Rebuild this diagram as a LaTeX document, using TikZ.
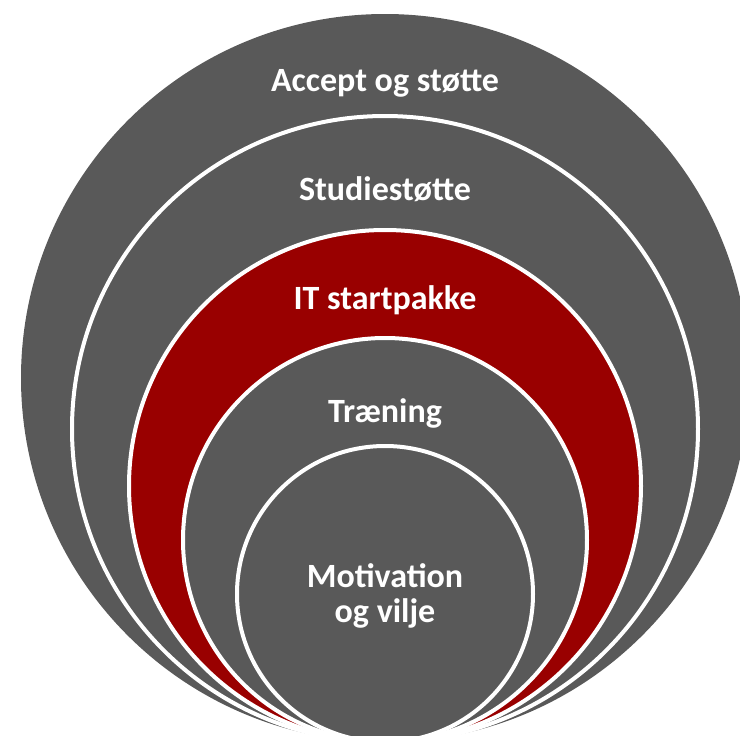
\documentclass[tikz,border=0pt]{standalone}
\usepackage{fontspec}
\setmainfont{Carlito}
\definecolor{grau}{HTML}{595959}
\definecolor{dunkelrot}{HTML}{990000}

\begin{document}
\begin{tikzpicture}[x=1pt, y=-1pt,
    font=\fontsize{34}{35}\selectfont\bfseries,
    Ring/.style={circle, inner sep=0pt, outer sep=0pt, fill=#1}, % Kreisflaeche
    Rand/.style={draw=white, line width=4pt}, % weisser Rand
    Text/.style={text=white, anchor=base, align=center}
    ]
    \useasboundingbox (0,0) rectangle (740,736);

    % Ringe, von aussen nach innen (beruehren sich unten bei y=742)
    \node[Ring=grau, minimum size=728pt] (R1) at (385,378) {};
    \foreach \n/\r/\f in {2/313/grau, 3/256/dunkelrot, 4/202/grau, 5/148/grau}
        \node[Ring=\f, Rand, minimum size={2*\r pt}] (R\n) at (385,{742-\r}) {};

    % Beschriftung
    \node[Text] (T1) at (385,91)  {Accept og støtte};
    \node[Text] (T2) at (385,200) {Studiestøtte};
    \node[Text] (T3) at (385,309) {IT startpakke};
    \node[Text] (T4) at (385,422) {Træning};
    \node[Text] (T5) at (385,622) {Motivation\\og vilje};
\end{tikzpicture}
\end{document}
